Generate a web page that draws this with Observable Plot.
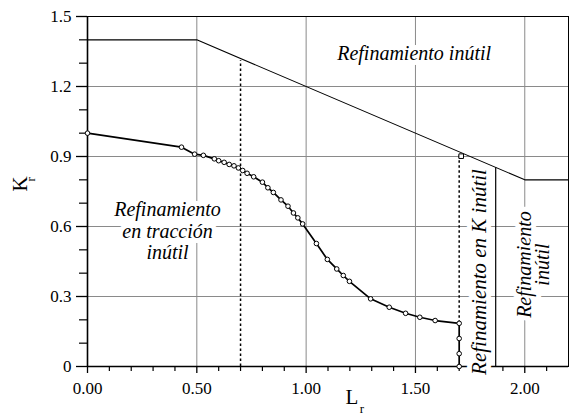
<!DOCTYPE html>
<html>
<head>
<meta charset="utf-8">
<script src="https://cdn.jsdelivr.net/npm/d3@7"></script>
<script src="https://cdn.jsdelivr.net/npm/@observablehq/plot@0.6"></script>
<style>
  body { margin: 0; background: #fff; font-family: "Liberation Serif", serif; }
  #chart svg text { font-family: "Liberation Serif", serif !important; }
</style>
</head>
<body>
<div id="chart"></div>
<script>
// Axis ticks and labels
const xTicks = [0, 0.5, 1, 1.5, 2];
const xTickLabels = ["0.00", "0.50", "1.00", "1.50", "2.00"];
const yTicks = [0, 0.3, 0.6, 0.9, 1.2, 1.5];
const yTickLabels = ["0", "0.3", "0.6", "0.9", "1.2", "1.5"];
const xMinorTicks = [0.1, 0.2, 0.3, 0.4, 0.6, 0.7, 0.8, 0.9, 1.1, 1.2, 1.3, 1.4, 1.6, 1.7, 1.8, 1.9, 2.1];
const yMinorTicks = [0.1, 0.2, 0.4, 0.5, 0.7, 0.8, 1.0, 1.1, 1.3, 1.4];

// Failure assessment curve (Lr, Kr) with computed points
const curveLr = [0, 0.43, 0.49, 0.53, 0.58, 0.60, 0.625, 0.648, 0.67, 0.69, 0.71, 0.73, 0.76, 0.80, 0.825, 0.85, 0.885, 0.917, 0.942, 0.962, 0.984, 1.047, 1.097, 1.14, 1.17, 1.198, 1.295, 1.38, 1.455, 1.52, 1.59, 1.70, 1.70, 1.70, 1.70];
const curveKr = [1.0, 0.94, 0.91, 0.905, 0.89, 0.882, 0.875, 0.866, 0.86, 0.851, 0.84, 0.828, 0.813, 0.79, 0.766, 0.746, 0.714, 0.687, 0.658, 0.637, 0.611, 0.527, 0.459, 0.418, 0.39, 0.365, 0.29, 0.254, 0.228, 0.211, 0.197, 0.185, 0.12, 0.055, 0];

// Upper limit of useful refinement
const limitLr = [0, 0.5, 2.0, 2.2];
const limitKr = [1.4, 1.4, 0.8, 0.8];

// Vertical bounds of the refinement zones
const dashedLr = [0.7, 1.7];
const dashedFrom = [0, 0.185];
const dashedTo = [1.31, 0.91];
const solidLr = [1.867];
const solidTo = [0.852];

// Zone labels
const zoneText = ["Refinamiento inútil", "Refinamiento\nen tracción\ninútil", "Refinamiento en K inútil", "Refinamiento\ninútil"];
const zoneLr = [1.494, 0.366, 1.79, 2.045];
const zoneKr = [1.34, 0.582, 0.405, 0.437];
const zoneRotate = [0, 0, -90, -90];
const zoneLineHeight = [1, 1.08, 1, 0.9];
const zoneFontSize = [20, 20, 21, 20];

const fontFamily = "Liberation Serif";
const curve = curveLr.map((x, i) => ({x, y: curveKr[i]}));
const limit = limitLr.map((x, i) => ({x, y: limitKr[i]}));
const dashed = dashedLr.map((x, i) => ({x, y1: dashedFrom[i], y2: dashedTo[i]}));
const solid = solidLr.map((x, i) => ({x, y1: 0, y2: solidTo[i]}));
const zones = zoneText.map((t, i) => ({t, x: zoneLr[i], y: zoneKr[i], r: zoneRotate[i], lh: zoneLineHeight[i], fs: zoneFontSize[i]}));

const textOpts = {fill: "black", stroke: "white", strokeWidth: 10, fontStyle: "italic", fontFamily};

const chart = Plot.plot({
  width: 570,
  height: 418,
  marginLeft: 87,
  marginRight: 2,
  marginTop: 16,
  marginBottom: 52,
  style: {fontFamily, fontSize: "17px", background: "white", color: "black"},
  x: {domain: [0, 2.2], label: null},
  y: {domain: [0, 1.5], label: null},
  marks: [
    Plot.gridX([0.5, 1, 1.5, 2], {stroke: "#8a8a8a", strokeOpacity: 1, strokeWidth: 1}),
    Plot.gridY([0.3, 0.6, 0.9, 1.2], {stroke: "#8a8a8a", strokeOpacity: 1, strokeWidth: 1}),
    Plot.frame({stroke: "black", strokeWidth: 1}),
    Plot.ruleX([0], {stroke: "black", strokeWidth: 1.6}),
    Plot.ruleY([0], {stroke: "black", strokeWidth: 1.6}),
    Plot.axisX(xTicks, {tickSize: 7, tickPadding: 8, fontSize: 17, fontFamily, fontVariant: "normal", tickFormat: d => xTickLabels[xTicks.indexOf(d)], strokeWidth: 1.3}),
    Plot.axisX(xMinorTicks, {tickSize: 5, tickFormat: () => "", strokeWidth: 1.2}),
    Plot.axisY(yTicks, {tickSize: 11, tickPadding: 5, fontSize: 17, fontFamily, fontVariant: "normal", tickFormat: d => yTickLabels[yTicks.indexOf(d)], strokeWidth: 1.3}),
    Plot.axisY(yMinorTicks, {tickSize: 8, tickFormat: () => "", strokeWidth: 1.2}),
    // zone labels, with a white halo that interrupts the grid and axis
    ...zones.map(z => Plot.text([z], {x: "x", y: "y", text: "t", rotate: z.r, lineHeight: z.lh, fontSize: z.fs, ...textOpts})),
    // axis titles
    Plot.text(["K"], {frameAnchor: "left", dx: -67, dy: 0, rotate: -90, fontSize: 21, fontFamily}),
    Plot.text(["r"], {frameAnchor: "left", dx: -57, dy: -10, rotate: -90, fontSize: 13, fontFamily}),
    Plot.text(["L"], {frameAnchor: "bottom", dx: 24, dy: 37, fontSize: 21, fontFamily}),
    Plot.text(["r"], {frameAnchor: "bottom", dx: 34, dy: 46, fontSize: 13, fontFamily}),
    // limit and zone boundaries
    Plot.line(limit, {x: "x", y: "y", stroke: "black", strokeWidth: 1.1}),
    Plot.ruleX(dashed, {x: "x", y1: "y1", y2: "y2", stroke: "black", strokeWidth: 1.5, strokeDasharray: "2.5,2.5"}),
    Plot.ruleX(solid, {x: "x", y1: "y1", y2: "y2", stroke: "black", strokeWidth: 1.2}),
    Plot.dot([{x: dashedLr[1], y: dashedTo[1]}], {x: "x", y: "y", symbol: "square", r: 2.6, stroke: "black", fill: "white", strokeWidth: 1, dx: 2, dy: 2}),
    // failure assessment curve
    Plot.line(curve, {x: "x", y: "y", stroke: "black", strokeWidth: 1.7}),
    Plot.dot(curve, {x: "x", y: "y", r: 2.3, stroke: "black", fill: "white", strokeWidth: 1})
  ]
});

// set the serif face directly on every label
chart.querySelectorAll("text").forEach(t => {
  t.setAttribute("font-family", fontFamily);
  t.style.setProperty("font-family", "'Liberation Serif', serif", "important");
});

document.getElementById("chart").appendChild(chart);
</script>
</body>
</html>
